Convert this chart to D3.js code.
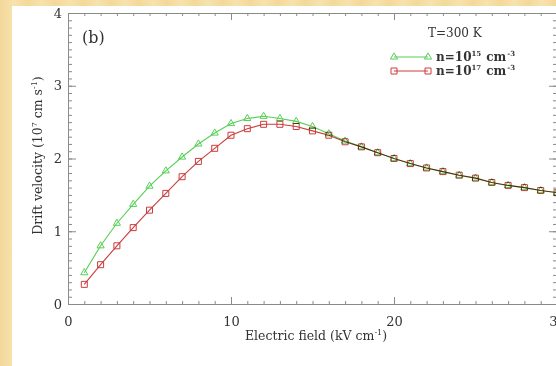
<!DOCTYPE html>
<html>
<head>
<meta charset="utf-8">
<script src="https://cdn.jsdelivr.net/npm/d3@7"></script>
<style>
  body { margin: 0; background: #f6dfa4; }
  svg { display: block; }
  text { font-family: "DejaVu Serif", "Liberation Serif", serif; fill: #333; }
</style>
</head>
<body>
<script>
const width = 556;
const height = 366;

// electric field (kV/cm) and drift velocity (1e7 cm/s)
const field = [1, 2, 3, 4, 5, 6, 7, 8, 9, 10, 11, 12, 13, 14, 15,
               16, 17, 18, 19, 20, 21, 22, 23, 24, 25, 26, 27, 28, 29, 30];
const lowDoping = [0.43, 0.80, 1.11, 1.37, 1.62, 1.83, 2.02, 2.20, 2.35, 2.48,
                   2.55, 2.58, 2.55, 2.51, 2.44, 2.34, 2.24, 2.16, 2.08, 2.00,
                   1.93, 1.87, 1.82, 1.77, 1.73, 1.67, 1.63, 1.60, 1.56, 1.53];
const highDoping = [0.27, 0.54, 0.80, 1.05, 1.29, 1.52, 1.75, 1.96, 2.14, 2.32,
                    2.41, 2.47, 2.47, 2.44, 2.38, 2.32, 2.23, 2.16, 2.08, 2.00,
                    1.93, 1.87, 1.82, 1.77, 1.73, 1.67, 1.63, 1.60, 1.56, 1.53];
const xTicks = [0, 10, 20, 30];
const yTicks = [0, 1, 2, 3, 4];

const green = "#55cf55";
const red = "#cc3c3c";
const axisColor = "#8a8a8a";

let svg = d3.select("body")
    .append("svg")
    .attr("width", width)
    .attr("height", height);

// beige backdrop, white paper
let defs = svg.append("defs");
let grad = defs.append("linearGradient").attr("id", "bg")
    .attr("x1", 0).attr("x2", 1).attr("y1", 0).attr("y2", 0)
    .attr("spreadMethod", "repeat")
    .attr("gradientTransform", "scale(0.05)");
grad.append("stop").attr("offset", "0%").attr("stop-color", "#f3d89a");
grad.append("stop").attr("offset", "50%").attr("stop-color", "#f7e2ae");
grad.append("stop").attr("offset", "100%").attr("stop-color", "#f3d89a");
svg.append("rect").attr("width", width).attr("height", height).attr("fill", "url(#bg)");
svg.append("rect").attr("x", 12).attr("y", 6)
    .attr("width", width - 12).attr("height", height - 6).attr("fill", "#fff");

const x = d3.scaleLinear().domain([0, 30]).range([68, 557]);
const y = d3.scaleLinear().domain([0, 4]).range([304, 13]);

function styleAxis(g) {
    g.select(".domain").attr("stroke", axisColor);
    g.selectAll(".tick line").attr("stroke", axisColor);
    g.selectAll(".tick text").style("font-size", "13px").attr("fill", "#333");
}

const xMinor = d3.range(0, 31);
const yMinor = d3.range(0, 40.5).map(d => d / 10);

// bottom axis
svg.append("g").attr("transform", `translate(0,${y(0)})`)
    .call(d3.axisBottom(x).tickValues(xMinor).tickSize(-3).tickFormat(""))
    .call(styleAxis);
svg.append("g").attr("transform", `translate(0,${y(0)})`)
    .call(d3.axisBottom(x).tickValues(xTicks).tickSize(-7).tickPadding(13).tickFormat(d3.format("d")))
    .call(styleAxis);
// top axis
svg.append("g").attr("transform", `translate(0,${y(4)})`)
    .call(d3.axisTop(x).tickValues(xMinor).tickSize(-3).tickFormat(""))
    .call(styleAxis);
svg.append("g").attr("transform", `translate(0,${y(4)})`)
    .call(d3.axisTop(x).tickValues(xTicks).tickSize(-7).tickFormat(""))
    .call(styleAxis);
// left axis
svg.append("g").attr("transform", `translate(${x(0)},0)`)
    .call(d3.axisLeft(y).tickValues(yMinor).tickSize(-4).tickFormat(""))
    .call(styleAxis);
svg.append("g").attr("transform", `translate(${x(0)},0)`)
    .call(d3.axisLeft(y).tickValues(yTicks).tickSize(-8).tickPadding(6).tickFormat(d3.format("d")))
    .call(styleAxis);
// right axis
svg.append("g").attr("transform", `translate(${x(30)},0)`)
    .call(d3.axisRight(y).tickValues(yMinor).tickSize(-4).tickFormat(""))
    .call(styleAxis);
svg.append("g").attr("transform", `translate(${x(30)},0)`)
    .call(d3.axisRight(y).tickValues(yTicks).tickSize(-8).tickFormat(""))
    .call(styleAxis);

// series
const line = d3.line().x(d => x(d[0])).y(d => y(d[1]));
const tri = d3.symbol().type(d3.symbolTriangle).size(22);
const sq = d3.symbol().type(d3.symbolSquare).size(36);

function drawSeries(values, color, sym) {
    const pts = field.map((e, i) => [e, values[i]]);
    let g = svg.append("g").style("mix-blend-mode", "multiply");
    g.append("path").datum(pts)
        .attr("d", line)
        .attr("fill", "none")
        .attr("stroke", color)
        .attr("stroke-width", 1.1);
    g.selectAll("path.pt").data(pts).join("path")
        .attr("class", "pt")
        .attr("d", sym)
        .attr("transform", d => `translate(${x(d[0])},${y(d[1])})`)
        .attr("fill", "none")
        .attr("stroke", color)
        .attr("stroke-width", 1);
}
drawSeries(lowDoping, green, tri);
drawSeries(highDoping, red, sq);

// panel tag and temperature
svg.append("text").attr("x", 82).attr("y", 43)
    .style("font-size", "16px").text("(b)");
svg.append("text").attr("x", 428).attr("y", 37)
    .style("font-size", "12px").text("T=300  K");

// legend
const legend = [
    { color: green, sym: tri, exp: "15", y: 57 },
    { color: red, sym: sq, exp: "17", y: 71 }
];
legend.forEach(l => {
    svg.append("line").attr("x1", 394).attr("x2", 428)
        .attr("y1", l.y).attr("y2", l.y)
        .attr("stroke", l.color).attr("stroke-width", 1.1);
    [394, 428].forEach(px => {
        svg.append("path").attr("d", l.sym)
            .attr("transform", `translate(${px},${l.y})`)
            .attr("fill", "none").attr("stroke", l.color);
    });
    let t = svg.append("text").attr("x", 436).attr("y", l.y + 4)
        .style("font-size", "12px").style("font-weight", "bold");
    t.append("tspan").text("n=10");
    t.append("tspan").attr("dy", -5).style("font-size", "7px").text(l.exp);
    t.append("tspan").attr("dy", 5).attr("dx", 5).text("cm");
    t.append("tspan").attr("dy", -5).attr("dx", 1).style("font-size", "7px").text("-3");
});

// axis titles
let xt = svg.append("text").attr("x", 316).attr("y", 340)
    .attr("text-anchor", "middle").style("font-size", "12.5px");
xt.append("tspan").text("Electric field (kV cm");
xt.append("tspan").attr("dy", -5).style("font-size", "8px").text("-1");
xt.append("tspan").attr("dy", 5).text(")");

let yt = svg.append("text")
    .attr("transform", `translate(42,${(y(0) + y(4)) / 2 - 3}) rotate(-90)`)
    .attr("text-anchor", "middle").style("font-size", "12.5px");
yt.append("tspan").text("Drift velocity (10");
yt.append("tspan").attr("dy", -5).style("font-size", "8px").text("7");
yt.append("tspan").attr("dy", 5).text(" cm s");
yt.append("tspan").attr("dy", -5).style("font-size", "8px").text("-1");
yt.append("tspan").attr("dy", 5).text(")");
</script>
</body>
</html>
